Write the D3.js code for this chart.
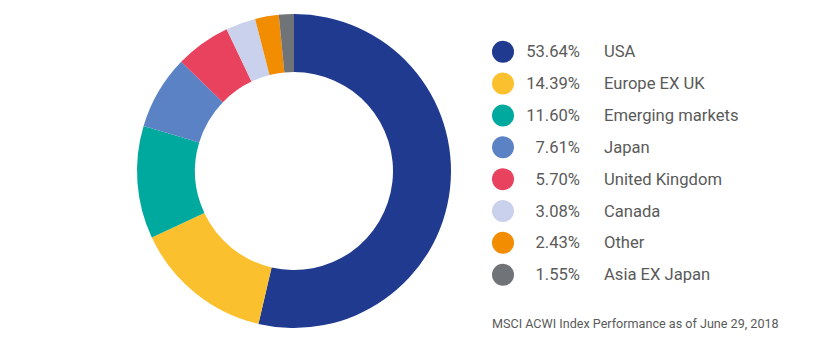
<!DOCTYPE html>
<html>
<head>
<meta charset="utf-8">
<script src="https://cdn.jsdelivr.net/npm/d3@7"></script>
<style>
  html, body { margin: 0; padding: 0; background: #fff; }
  svg { display: block; font-family: Roboto, "Noto Sans", sans-serif; }
</style>
</head>
<body>
<svg id="chart" width="825" height="340"></svg>
<script>
// Regional weights of the index (percent)
const regions = ["USA", "Europe EX UK", "Emerging markets", "Japan", "United Kingdom", "Canada", "Other", "Asia EX Japan"];
const weights = [53.64, 14.39, 11.60, 7.61, 5.70, 3.08, 2.43, 1.55];
const palette = ["#1f3a8f", "#fbc02d", "#00a99d", "#5b82c4", "#e8425f", "#c9d1ec", "#f28c00", "#707378"];
const footnote = "MSCI ACWI Index Performance as of June 29, 2018";

const data = regions.map((name, i) => ({ name, value: weights[i] }));

const svg = d3.select("#chart");
const color = d3.scaleOrdinal().domain(regions).range(palette);

// Donut, starting at 12 o'clock and running clockwise
const cx = 294, cy = 171, outerR = 157, innerR = 99;
const pie = d3.pie().value(d => d.value).sort(null).startAngle(0).endAngle(2 * Math.PI);
const arc = d3.arc().innerRadius(innerR).outerRadius(outerR);

svg.append("g")
  .attr("transform", `translate(${cx},${cy})`)
  .selectAll("path")
  .data(pie(data))
  .join("path")
  .attr("d", arc)
  .attr("fill", d => color(d.data.name));

// Legend: swatch, value, name
const rowY = d3.scalePoint().domain(regions).range([51.7, 274.7]);
const legend = svg.append("g");
const rows = legend.selectAll("g.row")
  .data(data)
  .join("g")
  .attr("class", "row")
  .attr("transform", d => `translate(0,${rowY(d.name)})`);

rows.append("circle")
  .attr("cx", 503)
  .attr("r", 11)
  .attr("fill", d => color(d.name));

rows.append("text")
  .attr("x", 580)
  .attr("y", 5.6)
  .attr("text-anchor", "end")
  .attr("font-size", 16.6)
  .attr("fill", "#5a5a5a")
  .text(d => d3.format(".2f")(d.value) + "%");

rows.append("text")
  .attr("x", 604)
  .attr("y", 5.6)
  .attr("font-size", 16.6)
  .attr("fill", "#5a5a5a")
  .text(d => d.name);

svg.append("text")
  .attr("x", 492)
  .attr("y", 328)
  .attr("font-size", 12.6)
  .attr("fill", "#5a5a5a")
  .text(footnote);
</script>
</body>
</html>
